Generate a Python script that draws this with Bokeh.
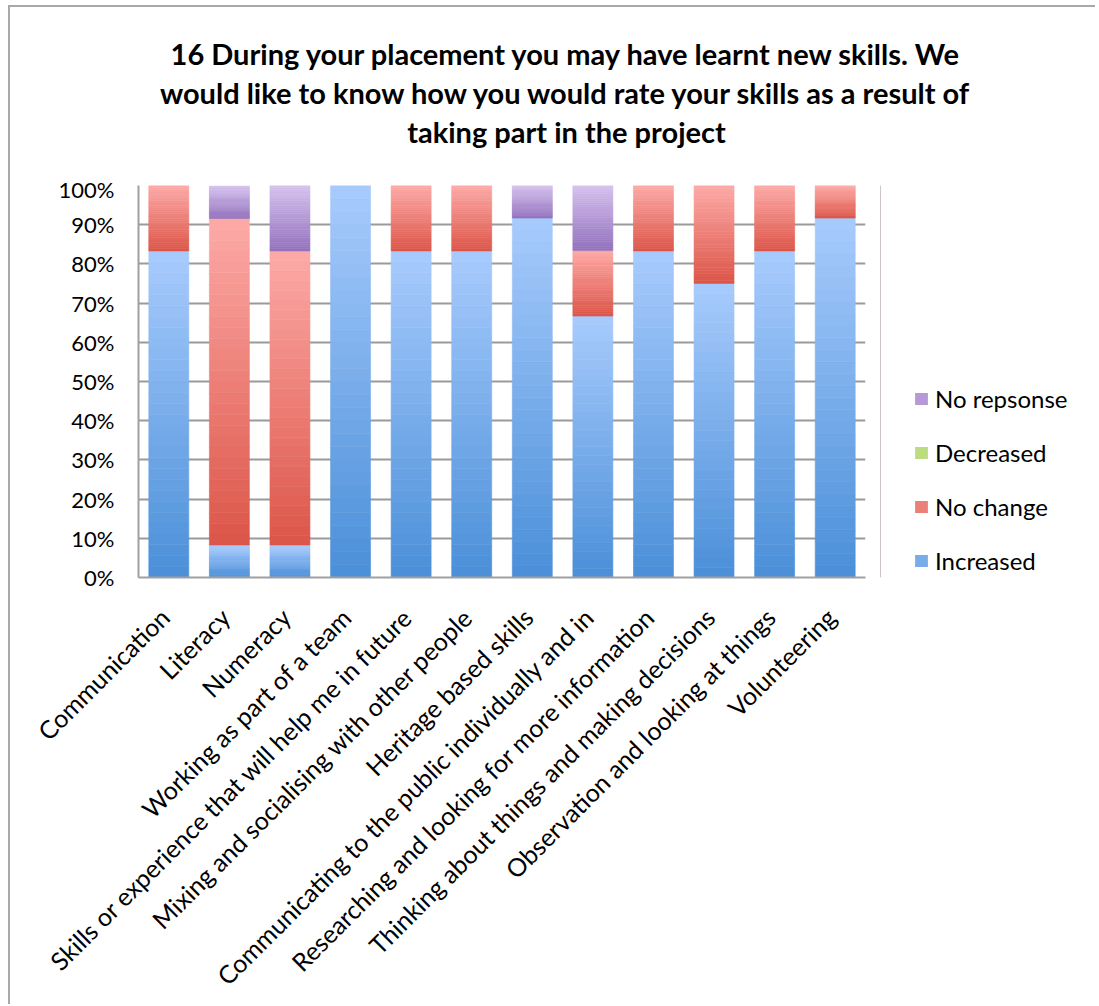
import math
from bokeh.plotting import figure
from bokeh.layouts import column, row
from bokeh.models import (ColumnDataSource, NumeralTickFormatter, Legend, LegendItem,
                          Label, FixedTicker, Range1d)
from bokeh.embed import file_html
from bokeh.resources import INLINE

categories = [
    "Communication",
    "Literacy",
    "Numeracy",
    "Working as part of a team",
    "Skills or experience that will help me in future",
    "Mixing and socialising with other people",
    "Heritage based skills",
    "Communicating to the public individually and in",
    "Researching and looking for more information",
    "Thinking about things and making decisions",
    "Observation and looking at things",
    "Volunteering",
]
increased   = [0.833, 0.083, 0.083, 1.000, 0.833, 0.833, 0.917, 0.667, 0.833, 0.750, 0.833, 0.917]
no_change   = [0.167, 0.833, 0.750, 0.000, 0.167, 0.167, 0.000, 0.167, 0.167, 0.250, 0.167, 0.083]
decreased   = [0.0] * 12
no_response = [0.000, 0.083, 0.167, 0.000, 0.000, 0.000, 0.083, 0.167, 0.000, 0.000, 0.000, 0.000]

series_names = ["Increased", "No change", "Decreased", "No repsonse"]
series_vals = [increased, no_change, decreased, no_response]
# (dark bottom, light top) gradient colours per series
series_cols = [("#4a8fd8", "#a8cbfd"), ("#dc5548", "#fdaaa7"),
               ("#a2ca58", "#d7eeaa"), ("#9371bd", "#d5c2ef")]

title_lines = ["16 During your placement you may have learnt new skills. We",
               "would like to know how you would rate your skills as a result of",
               "taking part in the project"]

FONT = "Lato"
N_SLICES = 30
BAR_W = 0.66
LABEL_SHIFT = -0.07


def hex2rgb(h):
    h = h.lstrip("#")
    return tuple(int(h[i:i + 2], 16) for i in (0, 2, 4))


def mix(c1, c2, t):
    a, b = hex2rgb(c1), hex2rgb(c2)
    return "#%02x%02x%02x" % tuple(int(round(a[i] + (b[i] - a[i]) * t)) for i in range(3))


def blank(width, height):
    f = figure(width=width, height=height, x_range=Range1d(0, 1), y_range=Range1d(0, 1),
               output_backend="svg", toolbar_location=None,
               min_border_left=0, min_border_right=0, min_border_top=0, min_border_bottom=0)
    f.axis.visible = False
    f.grid.visible = False
    f.outline_line_color = None
    return f


n = len(categories)
centers = [i + 0.5 for i in range(n)]   # slot centre of each category on the x scale

P_W, P_H, LG_W, T_H = 870, 829, 215, 168

# ---------------- main chart ----------------
p = figure(width=P_W, height=P_H, x_range=Range1d(0, n), y_range=Range1d(0, 1),
           output_backend="svg", toolbar_location=None,
           min_border_left=128, min_border_right=15, min_border_top=10, min_border_bottom=413)
p.outline_line_color = None

cum = [0.0] * n
for name, vals, (dark, light) in zip(series_names, series_vals, series_cols):
    xs, bots, tops, cols = [], [], [], []
    for i in range(n):
        v = vals[i]
        if v > 0:
            for k in range(N_SLICES):
                xs.append(centers[i])
                bots.append(cum[i] + v * k / N_SLICES)
                tops.append(cum[i] + v * (k + 1) / N_SLICES)
                cols.append(mix(dark, light, (k + 0.5) / N_SLICES))
        cum[i] += v
    src = ColumnDataSource(dict(x=xs, bottom=bots, top=tops, color=cols))
    p.vbar(x="x", bottom="bottom", top="top", width=BAR_W, source=src,
           fill_color="color", line_color="color", line_width=0.6)

# y axis
p.yaxis.ticker = FixedTicker(ticks=[i / 10 for i in range(11)])
p.yaxis.formatter = NumeralTickFormatter(format="0%")
p.yaxis.major_label_text_font = FONT
p.yaxis.major_label_text_font_size = "22px"
p.yaxis.major_label_text_color = "#000000"
p.yaxis.major_label_standoff = 24
p.yaxis.major_tick_out = 0
p.yaxis.major_tick_in = 0
p.yaxis.minor_tick_out = 0
p.yaxis.minor_tick_in = 0
p.yaxis.axis_line_color = "#a0a0a0"
p.yaxis.axis_line_width = 2

# x axis: category names, ending just under each bar as in the original
lab_ticks = [round(c + LABEL_SHIFT, 3) for c in centers]
p.xaxis.ticker = FixedTicker(ticks=lab_ticks)
p.xaxis.major_label_overrides = {t: c for t, c in zip(lab_ticks, categories)}
p.xaxis.major_label_orientation = math.pi / 4
p.xaxis.major_label_standoff = 35
p.xaxis.major_label_text_font = FONT
p.xaxis.major_label_text_font_size = "25px"
p.xaxis.major_label_text_color = "#000000"
p.xaxis.major_tick_out = 0
p.xaxis.major_tick_in = 0
p.xaxis.minor_tick_out = 0
p.xaxis.minor_tick_in = 0
p.xaxis.axis_line_color = "#a0a0a0"
p.xaxis.axis_line_width = 2

p.xgrid.grid_line_color = None
p.ygrid.grid_line_color = "#9a9a9a"
p.ygrid.grid_line_width = 2

# ---------------- legend panel ----------------
lg = blank(LG_W, P_H)
items = []
for name, (dark, light) in zip(series_names, series_cols):
    r = lg.vbar(x=[-5], top=[1], width=0.5, fill_color=mix(dark, light, 0.5), line_color=None)
    items.append(LegendItem(label=name, renderers=[r]))
legend = Legend(items=list(reversed(items)), location=(33, 2),
                label_text_font=FONT, label_text_font_size="24px", label_text_color="#000000",
                glyph_width=16, glyph_height=15, label_height=29, spacing=25,
                label_standoff=6, padding=0, margin=0, border_line_color=None,
                background_fill_alpha=0)
lg.add_layout(legend, "center")

# ---------------- title panel ----------------
t = blank(P_W + LG_W, T_H)
for j, line in enumerate(title_lines):
    t.add_layout(Label(x=556, y=122 - 39 * j, x_units="screen", y_units="screen", text=line,
                       text_align="center", text_baseline="middle", text_font=FONT,
                       text_font_size="29px", text_font_style="bold", text_color="#000000"))

layout = column(t, row(p, lg, spacing=0), spacing=0)
layout.styles = {"margin-left": "8px", "margin-top": "5px",
                 "border-left": "2px solid #a9a9a9", "border-top": "2px solid #a9a9a9"}

open("out.html", "w").write(file_html(layout, INLINE))
